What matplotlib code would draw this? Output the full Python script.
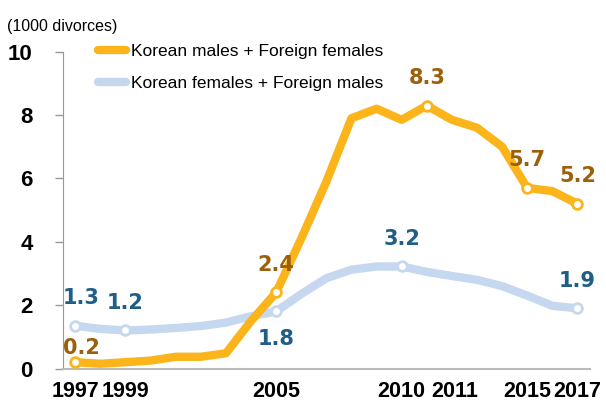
import matplotlib
matplotlib.use("Agg")
import matplotlib.pyplot as plt

# Dane (tys. rozwodów)
years = list(range(1997, 2018))
kor_male_for_female = [0.2, 0.15, 0.2, 0.25, 0.37, 0.37, 0.48, 1.5, 2.4, 4.1, 5.9,
                       7.9, 8.2, 7.85, 8.3, 7.85, 7.6, 7.0, 5.7, 5.6, 5.2]
kor_female_for_male = [1.35, 1.25, 1.2, 1.23, 1.28, 1.34, 1.45, 1.65, 1.8, 2.35, 2.85,
                       3.12, 3.22, 3.22, 3.05, 2.92, 2.8, 2.6, 2.3, 1.98, 1.9]

# etykiety punktów: rok, tekst
orange_labels = [(1997, "0.2"), (2005, "2.4"), (2011, "8.3"), (2015, "5.7"), (2017, "5.2")]
blue_labels = [(1997, "1.3"), (1999, "1.2"), (2005, "1.8"), (2010, "3.2"), (2017, "1.9")]

xtick_years = [1997, 1999, 2005, 2010, 2011, 2015, 2017]
xtick_pos = [1997, 1999, 2005, 2010, 2012.1, 2015, 2017]
yticks = [0, 2, 4, 6, 8, 10]

orange = "#FBB41A"
blue = "#C5D8F0"
orange_txt = "#9C5F0A"
blue_txt = "#1F5F86"

fig = plt.figure(figsize=(6.06, 4.03), dpi=100)
ax = fig.add_axes([0.1035, 0.0856, 0.8701, 0.7861])

ax.plot(years, kor_female_for_male, color=blue, lw=6, solid_joinstyle="round",
        solid_capstyle="round", label="Korean females + Foreign males", zorder=2)
ax.plot(years, kor_male_for_female, color=orange, lw=6, solid_joinstyle="round",
        solid_capstyle="round", label="Korean males + Foreign females", zorder=3)

for yr, txt in orange_labels:
    v = kor_male_for_female[years.index(yr)]
    ax.plot(yr, v, "o", ms=7, mfc="white", mec=orange, mew=2, zorder=4)
    if yr == 1997:
        dx, off = 0.25, 10
    else:
        dx, off = 0, 20
    ax.annotate(txt, (yr + dx, v), xytext=(0, off), textcoords="offset points",
                ha="center", va="center", fontsize=15, fontweight="bold",
                color=orange_txt, family="DejaVu Sans")

for yr, txt in blue_labels:
    v = kor_female_for_male[years.index(yr)]
    ax.plot(yr, v, "o", ms=7, mfc="white", mec=blue, mew=2, zorder=4)
    off = -20 if yr == 2005 else 20
    dx = 0.25 if yr == 1997 else 0
    ax.annotate(txt, (yr + dx, v), xytext=(0, off), textcoords="offset points",
                ha="center", va="center", fontsize=15, fontweight="bold",
                color=blue_txt, family="DejaVu Sans")

ax.set_xlim(1996.5, 2017.5)
ax.set_ylim(0, 10)
ax.set_yticks(yticks)
ax.set_yticklabels([str(t) for t in yticks], fontsize=16, fontweight="bold",
                   family="Liberation Sans")
ax.set_xticks(xtick_pos)
ax.set_xticklabels([str(y) for y in xtick_years], fontsize=15.5, fontweight="bold",
                   family="Liberation Sans")
ax.tick_params(axis="x", length=0, pad=9)
ax.tick_params(axis="y", length=5.5, width=1, color="#999999", pad=16)

for s in ["top", "right"]:
    ax.spines[s].set_visible(False)
ax.spines["left"].set_color("#999999")
ax.spines["bottom"].set_color("#BBBBBB")
ax.spines["bottom"].set_linewidth(1.5)

fig.text(0.012, 0.935, "(1000 divorces)", fontsize=11.5, family="Liberation Sans",
         va="center", ha="left")

h, l = ax.get_legend_handles_labels()
leg = ax.legend(h[::-1], l[::-1], loc="upper left", bbox_to_anchor=(0.037, 1.075),
                frameon=False, handlelength=1.6, handletextpad=0.3,
                labelspacing=1.0, prop={"family": "Liberation Sans", "size": 12.5})

plt.savefig("out.png", dpi=100)
